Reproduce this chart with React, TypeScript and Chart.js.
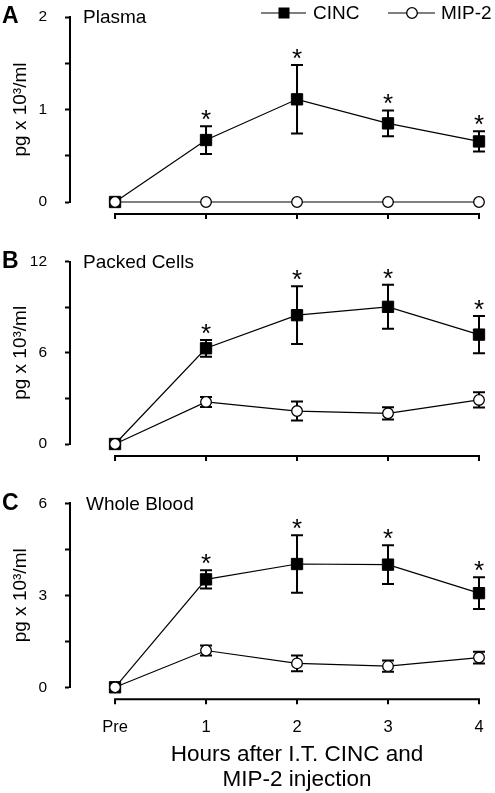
import React, { useEffect, useRef } from "react";
import { Chart, registerables } from "chart.js";

Chart.register(...registerables);

// ---------- data ----------
const xLabels = ["Pre", "1", "2", "3", "4"];
const xValues = [0, 1, 2, 3, 4];
const panelLetters = ["A", "B", "C"];
const panelTitles = ["Plasma", "Packed Cells", "Whole Blood"];
const yMaxes = [2, 12, 6];
const ySteps = [0.5, 3, 1.5];
const yLabelTicks = [
  [0, 1, 2],
  [0, 6, 12],
  [0, 3, 6],
];
const seriesNames = ["CINC", "MIP-2"];

const plasmaCinc = [0, 0.67, 1.11, 0.85, 0.655];
const plasmaCincErr = [0, 0.15, 0.37, 0.14, 0.11];
const plasmaMip = [0, 0, 0, 0, 0];
const plasmaMipErr = [0, 0, 0, 0, 0];

const packedCinc = [0, 6.3, 8.48, 9.03, 7.2];
const packedCincErr = [0, 0.55, 1.9, 1.45, 1.23];
const packedMip = [0, 2.77, 2.17, 2.02, 2.9];
const packedMipErr = [0, 0.33, 0.63, 0.4, 0.5];

const wholeCinc = [0, 3.52, 4.02, 4.0, 3.07];
const wholeCincErr = [0, 0.3, 0.94, 0.63, 0.52];
const wholeMip = [0, 1.2, 0.78, 0.69, 0.97];
const wholeMipErr = [0, 0.16, 0.26, 0.18, 0.19];

const cincSignificant = [false, true, true, true, true];

const xTitleLines = ["Hours after I.T. CINC and", "MIP-2 injection"];
const yTitle = "pg x 10\u00B3/ml";

const panelCinc = [plasmaCinc, packedCinc, wholeCinc];
const panelCincErr = [plasmaCincErr, packedCincErr, wholeCincErr];
const panelMip = [plasmaMip, packedMip, wholeMip];
const panelMipErr = [plasmaMipErr, packedMipErr, wholeMipErr];

// ---------- layout ----------
const W = 495;
const panelTops = [0, 240, 480];
const panelHeights = [240, 240, 313];
const chartTops = [17, 21.7, 23.3];
const xAxisHeights = [38, 36, 105.7];
const FONT = '"Liberation Sans", Arial, sans-serif';

Chart.defaults.color = "#000";
Chart.defaults.font.family = FONT;

function drawErrorBar(ctx: CanvasRenderingContext2D, x: number, yTop: number, yBot: number) {
  ctx.beginPath();
  ctx.moveTo(x, yTop);
  ctx.lineTo(x, yBot);
  ctx.moveTo(x - 6, yTop);
  ctx.lineTo(x + 6, yTop);
  ctx.moveTo(x - 6, yBot);
  ctx.lineTo(x + 6, yBot);
  ctx.stroke();
}

function makePlugin(p: number) {
  return {
    id: "panelDecor" + p,
    beforeDatasetsDraw(chart: any) {
      const ctx = chart.ctx as CanvasRenderingContext2D;
      const xs = chart.scales.x;
      const ys = chart.scales.y;
      ctx.save();
      ctx.strokeStyle = "#000";
      ctx.lineWidth = 2;
      const sets = [
        [panelCinc[p], panelCincErr[p]],
        [panelMip[p], panelMipErr[p]],
      ];
      sets.forEach(([vals, errs]) => {
        vals.forEach((v: number, i: number) => {
          const e = errs[i];
          if (!e) return;
          const x = xs.getPixelForValue(xValues[i]);
          drawErrorBar(ctx, x, ys.getPixelForValue(v + e), ys.getPixelForValue(v - e));
        });
      });
      ctx.restore();
    },
    afterDraw(chart: any) {
      const ctx = chart.ctx as CanvasRenderingContext2D;
      const xs = chart.scales.x;
      const ys = chart.scales.y;
      const area = chart.chartArea;
      ctx.save();
      ctx.fillStyle = "#000";
      ctx.strokeStyle = "#000";

      // x axis line with ticks (offset below zero)
      const axY = area.bottom + 12;
      const x0 = xs.getPixelForValue(xValues[0]);
      const x1 = xs.getPixelForValue(xValues[xValues.length - 1]);
      ctx.lineWidth = 2;
      ctx.beginPath();
      ctx.moveTo(x0 - 1, axY);
      ctx.lineTo(x1 + 1, axY);
      xValues.forEach((v) => {
        const x = xs.getPixelForValue(v);
        ctx.moveTo(x, axY);
        ctx.lineTo(x, axY + 5);
      });
      ctx.stroke();

      // asterisks
      ctx.font = "26px " + FONT;
      ctx.textAlign = "center";
      ctx.textBaseline = "alphabetic";
      const m = ctx.measureText("*");
      const off = (m.actualBoundingBoxAscent - m.actualBoundingBoxDescent) / 2;
      panelCinc[p].forEach((v, i) => {
        if (!cincSignificant[i]) return;
        const x = xs.getPixelForValue(xValues[i]);
        const yTop = ys.getPixelForValue(v + panelCincErr[p][i]);
        ctx.fillText("*", x, yTop - 11 + off);
      });

      // panel letter and title
      const topY = ys.getPixelForValue(yMaxes[p]);
      ctx.textAlign = "left";
      ctx.textBaseline = "middle";
      ctx.font = "bold 23px " + FONT;
      ctx.fillText(panelLetters[p], 2, topY);
      ctx.font = "19px " + FONT;
      ctx.fillText(panelTitles[p], p === 2 ? 86 : 83, topY + 1);

      // legend on first panel
      if (p === 0) {
        const ly = 13;
        ctx.lineWidth = 1.2;
        ctx.beginPath();
        ctx.moveTo(261, ly);
        ctx.lineTo(306, ly);
        ctx.moveTo(388, ly);
        ctx.lineTo(435, ly);
        ctx.stroke();
        ctx.fillRect(284 - 5.5, ly - 5.5, 11, 11);
        ctx.beginPath();
        ctx.arc(412, ly, 5.3, 0, Math.PI * 2);
        ctx.fillStyle = "#fff";
        ctx.fill();
        ctx.lineWidth = 1.3;
        ctx.stroke();
        ctx.fillStyle = "#000";
        ctx.font = "19px " + FONT;
        ctx.fillText(seriesNames[0], 313, ly + 1);
        ctx.fillText(seriesNames[1], 441, ly + 1);
      }

      // x title on last panel
      if (p === 2) {
        const cx = (x0 + x1) / 2;
        ctx.textAlign = "center";
        ctx.font = "22.5px " + FONT;
        ctx.fillText(xTitleLines[0], cx, 275);
        ctx.fillText(xTitleLines[1], cx, 300);
      }
      ctx.restore();
    },
  };
}

function Panel({ p }: { p: number }) {
  const ref = useRef<HTMLCanvasElement | null>(null);
  useEffect(() => {
    if (!ref.current) return;
    const toPts = (arr: number[]) => arr.map((y, i) => ({ x: xValues[i], y }));
    const chart = new Chart(ref.current, {
      type: "line",
      data: {
        datasets: [
          {
            label: seriesNames[0],
            data: toPts(panelCinc[p]),
            borderColor: "#000",
            borderWidth: 1.2,
            backgroundColor: "#000",
            pointStyle: "rect",
            pointRadius: 8,
            pointBorderWidth: 1,
            pointBorderColor: "#000",
            pointBackgroundColor: "#000",
            tension: 0,
            clip: false,
            order: 2,
          } as any,
          {
            label: seriesNames[1],
            data: toPts(panelMip[p]),
            borderColor: "#000",
            borderWidth: 1.2,
            backgroundColor: "#fff",
            pointStyle: "circle",
            pointRadius: 5.3,
            pointBorderWidth: 1.3,
            pointBorderColor: "#000",
            pointBackgroundColor: "#fff",
            tension: 0,
            clip: false,
            order: 1,
          } as any,
        ],
      },
      options: {
        animation: false,
        responsive: false,
        maintainAspectRatio: false,
        events: [],
        layout: { padding: { top: chartTops[p], right: W - 479, left: 0, bottom: 0 } },
        plugins: { legend: { display: false }, tooltip: { enabled: false } },
        scales: {
          x: {
            type: "linear",
            min: -0.495,
            max: 4,
            afterBuildTicks: (s: any) => {
              s.ticks = xValues.map((v) => ({ value: v }));
            },
            afterFit: (s: any) => {
              s.height = xAxisHeights[p];
              s.paddingLeft = 0;
              s.paddingRight = 0;
            },
            grid: { display: false, drawTicks: false },
            border: { display: false },
            ticks: {
              display: p === 2,
              autoSkip: false,
              maxRotation: 0,
              padding: 30,
              font: { size: 16.5, family: FONT },
              color: "#000",
              callback: (v: any) => {
                const i = xValues.indexOf(Number(v));
                return i >= 0 ? xLabels[i] : "";
              },
            },
          },
          y: {
            type: "linear",
            min: 0,
            max: yMaxes[p],
            afterFit: (s: any) => {
              s.width = 70;
              s.paddingTop = 0;
              s.paddingBottom = 0;
            },
            afterBuildTicks: (s: any) => {
              const t = [];
              for (let v = 0; v <= yMaxes[p] + 1e-9; v += ySteps[p]) t.push({ value: v });
              s.ticks = t;
            },
            border: { display: true, width: 2, color: "#000" },
            grid: {
              display: true,
              drawOnChartArea: false,
              drawTicks: true,
              tickLength: 5,
              tickWidth: 2,
              color: "#000",
            },
            ticks: {
              autoSkip: false,
              padding: 18,
              font: { size: 15.5, family: FONT },
              color: "#000",
              callback: (v: any) => (yLabelTicks[p].includes(Number(v)) ? String(v) : ""),
            },
            title: {
              display: true,
              text: yTitle,
              font: { size: 19, family: FONT },
              color: "#000",
              padding: { top: 9, bottom: 0 },
            },
          },
        },
      },
      plugins: [makePlugin(p)],
    } as any);
    return () => chart.destroy();
  }, [p]);
  return (
    <canvas
      ref={ref}
      width={W}
      height={panelHeights[p]}
      style={{ position: "absolute", left: 0, top: panelTops[p], width: W, height: panelHeights[p], display: "block" }}
    />
  );
}

export default function App() {
  return (
    <div style={{ position: "absolute", left: 0, top: 0, width: W, height: 793, background: "#fff" }}>
      {[0, 1, 2].map((p) => (
        <Panel key={p} p={p} />
      ))}
    </div>
  );
}
